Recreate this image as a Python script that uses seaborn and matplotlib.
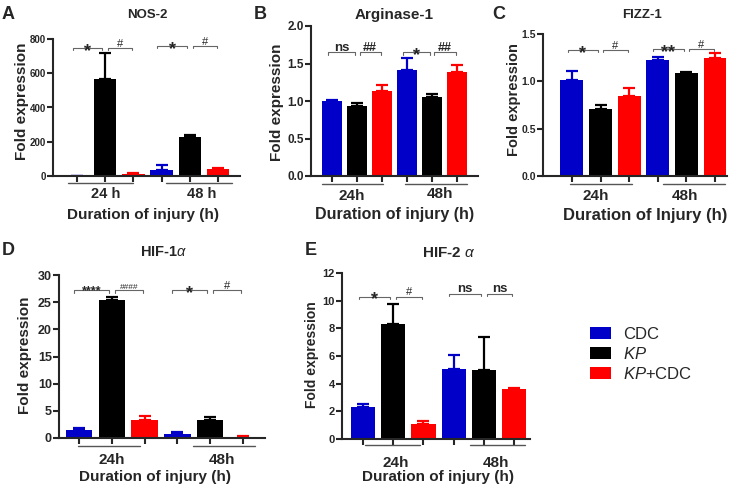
import numpy as np
import pandas as pd
import matplotlib
matplotlib.use("Agg")
import matplotlib.pyplot as plt
import matplotlib.transforms as mtransforms
from matplotlib.patches import Patch
from matplotlib.ticker import FormatStrFormatter
import seaborn as sns

# ---- values (mean and upper error) ----
treatments = ["CDC", "KP", "KP+CDC"]
times = ["24h", "48h"]

nos2_mean = [1, 565, 12, 33, 230, 40]
nos2_err = [0, 152, 4, 32, 8, 5]
arg1_mean = [1.00, 0.93, 1.14, 1.42, 1.05, 1.39]
arg1_err = [0.02, 0.05, 0.08, 0.16, 0.05, 0.09]
fizz1_mean = [1.01, 0.71, 0.84, 1.23, 1.09, 1.25]
fizz1_err = [0.10, 0.04, 0.09, 0.03, 0.01, 0.05]
hif1_mean = [1.5, 25.4, 3.3, 0.8, 3.3, 0.2]
hif1_err = [0.25, 0.5, 0.7, 0.3, 0.5, 0.2]
hif2_mean = [2.3, 8.3, 1.1, 5.05, 4.97, 3.6]
hif2_err = [0.2, 1.45, 0.2, 1.0, 2.38, 0.1]

# significance marks: (CDC vs KP, KP vs KP+CDC) for 24h then 48h
nos2_sig = [("*", "#"), ("*", "#")]
arg1_sig = [("ns", "##"), ("*", "##")]
fizz1_sig = [("*", "#"), ("**", "#")]
hif1_sig = [("****", "####"), ("*", "#")]
hif2_sig = [("*", "#"), ("ns", "ns")]

sns.set_style("ticks")
plt.rcParams["font.family"] = ["Liberation Sans", "DejaVu Sans"]
plt.rcParams["mathtext.fontset"] = "custom"
plt.rcParams["mathtext.it"] = "Liberation Sans:italic"
plt.rcParams["mathtext.rm"] = "Liberation Sans"
plt.rcParams["mathtext.bf"] = "Liberation Sans:bold"

colors = {"CDC": "#0000c8", "KP": "#000000", "KP+CDC": "#ff0000"}
slots = [t + " " + g for g in times for t in treatments]

W, H = 740, 488
fig = plt.figure(figsize=(W / 100, H / 100), dpi=100)

sig_style = {
    "*": dict(size=13, weight="bold", dy=-5.5),
    "**": dict(size=13, weight="bold", dy=-5.5),
    "****": dict(size=9, weight="bold", dy=-3),
    "#": dict(size=8, weight="normal", dy=1),
    "##": dict(size=9, weight="bold", dy=1),
    "####": dict(size=6, weight="normal", dy=1),
    "ns": dict(size=9.5, weight="bold", dy=1),
}


def panel(box, letter, letter_xy, title, title_xy, mean, err, ylim, yticks, fmt,
          sig, sig_y, xlim, spans, glabel_x, glabel_y, line_y, xlabel, xlabel_xy,
          ylabel_xy, tick_fs, ylab_fs, glab_fs, xlab_fs, title_fs):
    l, r, t, b = box
    w_px, h_px = r - l, b - t
    ax = fig.add_axes([l / W, 1 - b / H, w_px / W, h_px / H])
    df = pd.DataFrame({"slot": slots, "value": mean, "treatment": treatments * 2})
    sns.barplot(data=df, x="slot", y="value", hue="treatment", order=slots,
                hue_order=treatments, palette=colors, dodge=False, width=0.8,
                saturation=1, legend=False, linewidth=0, ax=ax, zorder=2)
    bars = sorted(ax.patches, key=lambda p: p.get_x())
    xs = [p.get_x() + p.get_width() / 2 for p in bars]
    for x, m, e, tr in zip(xs, mean, err, treatments * 2):
        ax.errorbar(x, m, yerr=[[0], [e]], fmt="none", ecolor=colors[tr],
                    elinewidth=1.6, capsize=4, capthick=1.6, zorder=1)

    ax.set_xlim(xlim)
    ax.set_ylim(ylim)
    ax.set_yticks(yticks)
    ax.yaxis.set_major_formatter(FormatStrFormatter(fmt))
    ax.set_xticks(xs)
    ax.set_xticklabels([])
    ax.set_xlabel("")
    sns.despine(ax=ax)
    for s in ["left", "bottom"]:
        ax.spines[s].set_linewidth(1.5)
    ax.tick_params(axis="both", direction="out", length=4, width=1.5,
                   labelsize=tick_fs, pad=1.2)
    for lab in ax.get_yticklabels():
        lab.set_fontweight("bold")
    ax.set_ylabel("Fold expression", fontsize=ylab_fs, fontweight="bold", va="center")
    ax.yaxis.set_label_coords((ylabel_xy[0] - l) / w_px, (b - ylabel_xy[1]) / h_px)

    trans = mtransforms.blended_transform_factory(ax.transData, ax.transAxes)
    # group underlines and labels
    for g in range(2):
        ax.plot(spans[g], [(b - line_y) / h_px] * 2, transform=trans,
                clip_on=False, color="#555555", lw=1.0)
        ax.text(glabel_x[g], (b - glabel_y[g]) / h_px, times[g].replace("h", " h") if letter == "A" else times[g],
                transform=trans, ha="center", va="center", fontsize=glab_fs,
                fontweight="bold")

    # significance brackets
    tick = (ylim[1] - ylim[0]) * 0.015
    for g in range(2):
        x0 = xs[3 * g]
        dx = xs[1] - xs[0]
        pairs = [(x0 - 0.15 * dx, x0 + 0.9 * dx), (x0 + 1.1 * dx, x0 + 1.95 * dx)]
        for (xa, xb), txt in zip(pairs, sig[g]):
            y = sig_y[g]
            ax.plot([xa, xa, xb, xb], [y - tick, y, y, y - tick], color="#666666",
                    lw=0.8, clip_on=False)
            st = sig_style[txt]
            ax.annotate(txt, ((xa + xb) / 2, y), xytext=(0, st["dy"]),
                        textcoords="offset points", ha="center", va="baseline",
                        fontsize=st["size"], fontweight=st["weight"],
                        annotation_clip=False)

    fig.text(xlabel_xy[0] / W, 1 - xlabel_xy[1] / H, xlabel, ha="center",
             va="center", fontsize=xlab_fs, fontweight="bold")
    fig.text(title_xy[0] / W, 1 - title_xy[1] / H, title, ha="center",
             va="center", fontsize=title_fs, fontweight="bold")
    fig.text(letter_xy[0] / W, 1 - letter_xy[1] / H, letter, ha="left",
             va="top", fontsize=13, fontweight="bold")
    return ax


panel((53, 240, 39, 176), "A", (2, 6), "NOS-2", (147, 15), nos2_mean, nos2_err,
      (0, 800), [0, 200, 400, 600, 800], "%d", nos2_sig, (745, 758),
      (-0.85, 5.78), [(-0.32, 1.99), (3.16, 5.5)], (1.03, 4.43), (194, 194), 183,
      "Duration of injury (h)", (143, 215), (22, 101), 7, 11, 10.5, 11, 9.5)

panel((311, 478, 26, 176), "B", (254, 6), "Arginase-1", (394, 15), arg1_mean, arg1_err,
      (0, 2.0), [0, 0.5, 1.0, 1.5, 2.0], "%.1f", arg1_sig, (1.65, 1.65),
      (-0.84, 5.84), [(-0.4, 2.04), (2.92, 5.4)], (0.8, 4.32), (196, 194), 184,
      "Duration of injury (h)", (395, 214), (277, 102), 8.5, 11, 11, 11.5, 11)

panel((543, 727, 34, 176), "C", (492, 6), "FIZZ-1", (642, 15), fizz1_mean, fizz1_err,
      (0, 1.5), [0, 0.5, 1.0, 1.5], "%.1f", fizz1_sig, (1.33, 1.34),
      (-1.01, 5.42), [(-0.07, 2.1), (3.18, 5.35)], (0.84, 3.95), (196, 196), 184,
      "Duration of Injury (h)", (645, 215), (514, 100), 7.5, 10.5, 11, 12, 9.5)

panel((59, 265, 275, 438), "D", (2, 242), "HIF-1$\\it{\\alpha}$", (164, 252), hif1_mean, hif1_err,
      (0, 30), [0, 5, 10, 15, 20, 25, 30], "%d", hif1_sig, (27.2, 27.2),
      (-0.61, 5.67), [(-0.03, 1.86), (3.48, 5.37)], (1.0, 4.36), (460, 460), 446,
      "Duration of injury (h)", (155, 477), (25, 355), 9, 11, 11, 11, 10.5)

panel((342, 530, 273, 439), "E", (305, 242), "HIF-2 $\\it{\\alpha}$", (449, 253), hif2_mean, hif2_err,
      (0, 12), [0, 2, 4, 6, 8, 10, 12], "%d", hif2_sig, (10.3, 10.5),
      (-0.7, 5.53), [(0.07, 1.89), (3.54, 5.36)], (1.09, 4.4), (463, 463), 445,
      "Duration of injury (h)", (438, 477), (312, 355), 8, 10, 11, 11, 11)

# legend
handles = [Patch(facecolor=colors[t], edgecolor="none") for t in treatments]
labels = ["CDC", "$\\it{KP}$", "$\\it{KP}$+CDC"]
fig.legend(handles, labels, loc="upper left", bbox_to_anchor=(578 / W, 1 - 315 / H),
           frameon=False, fontsize=12, handlelength=1.3, handleheight=0.75,
           handletextpad=0.7, labelspacing=0.25, borderpad=0.2)

fig.savefig("out.png", dpi=100)
